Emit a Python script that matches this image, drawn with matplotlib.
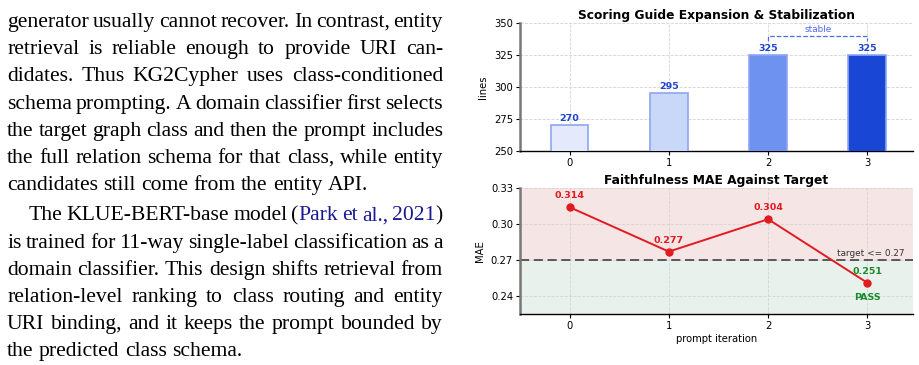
import matplotlib
matplotlib.use("Agg")
import matplotlib.pyplot as plt

# chart data
iters = [0, 1, 2, 3]
guide_lines = [270, 295, 325, 325]
bar_colors = ['#e4eafb', '#c9d7f8', '#6e92f0', '#1a46d6']
mae = [0.314, 0.277, 0.304, 0.251]
target = 0.27

# paragraph text on the left, {..} marks citation colour
para_lines = [
    "generator usually cannot recover. In contrast, entity",
    "retrieval is reliable enough to provide URI can-",
    "didates. Thus KG2Cypher uses class-conditioned",
    "schema prompting. A domain classifier first selects",
    "the target graph class and then the prompt includes",
    "the full relation schema for that class, while entity",
    "candidates still come from the entity API.",
    "The KLUE-BERT-base model ({Park et al., 2021})",
    "is trained for 11-way single-label classification as a",
    "domain classifier. This design shifts retrieval from",
    "relation-level ranking to class routing and entity",
    "URI binding, and it keeps the prompt bounded by",
    "the predicted class schema.",
]
justify = [True, True, True, True, True, True, False,
           True, True, True, True, True, False]
indent = [False] * 7 + [True] + [False] * 5

W, H = 919, 365
fig = plt.figure(figsize=(W / 100, H / 100), dpi=100)
renderer = fig.canvas.get_renderer()
tkw = dict(family='Liberation Serif', fontsize=15.6)


def wpx(s):
    t = fig.text(0, 0, s, **tkw)
    w = t.get_window_extent(renderer).width
    t.remove()
    return w


space = wpx("a a") - wpx("aa")


def pieces(word, state):
    out = []
    cur = ''
    for ch in word:
        if ch in '{}':
            if cur:
                out.append((cur, state))
            cur = ''
            state = (ch == '{')
        else:
            cur += ch
    if cur:
        out.append((cur, state))
    return out, state


x_left, x_right = 7, 443
baseline = 27.0
step = 27.2
state = False
for i, line in enumerate(para_lines):
    y = baseline + i * step + (3 if i >= 7 else 0)
    words = []
    for w in line.split(' '):
        p, state = pieces(w, state)
        words.append(p)
    widths = [sum(wpx(s) for s, _ in p) for p in words]
    x0 = 29 if indent[i] else x_left
    if justify[i] and len(words) > 1:
        gap = (x_right - x0 - sum(widths)) / (len(words) - 1)
    else:
        gap = space
    x = x0
    for p, wd in zip(words, widths):
        xx = x
        for s, blue in p:
            fig.text(xx / W, 1 - y / H, s, color='#1a1a90' if blue else 'black',
                     va='baseline', ha='left', **tkw)
            xx += wpx(s)
        x += wd + gap

# ---- top chart ----
ax1 = fig.add_axes([520 / W, 1 - 151 / H, 393 / W, 128 / H])
ax1.bar(iters, guide_lines, width=0.38, color=bar_colors, edgecolor='#8ea6f2',
        linewidth=1.2, zorder=3)
for xi, v in zip(iters, guide_lines):
    ax1.text(xi, v + 1.5, str(v), ha='center', va='bottom', fontsize=6.8,
             fontweight='bold', color='#1f44d0', zorder=4)
ax1.plot([2, 2, 3, 3], [336, 340, 340, 336], linestyle='--', color='#4a6cf0',
         linewidth=0.9, zorder=4)
ax1.text(2.5, 341.5, 'stable', ha='center', va='bottom', fontsize=6.4, color='#4a6cf0')
ax1.set_ylim(250, 350)
ax1.set_yticks([250, 275, 300, 325, 350])
ax1.set_xlim(-0.5, 3.46)
ax1.set_xticks(iters)
ax1.set_ylabel('lines', fontsize=7.2, labelpad=4)
ax1.set_title('Scoring Guide Expansion & Stabilization', fontsize=8.8,
              fontweight='bold', pad=3)

# ---- bottom chart ----
ax2 = fig.add_axes([520 / W, 1 - 314 / H, 393 / W, 126 / H])
ax2.axhspan(target, 0.33, color='#f6e5e5', zorder=0)
ax2.axhspan(0.225, target, color='#e9f1ec', zorder=0)
ax2.axhline(target, color='#333333', linestyle=(0, (6, 3)), linewidth=1.1, zorder=2)
ax2.text(3.03, target + 0.002, 'target <= 0.27', ha='center', va='bottom',
         fontsize=6.4, color='#333333')
ax2.plot(iters, mae, color='#e11b22', linewidth=1.4, marker='o', markersize=5, zorder=3)
for xi, v in zip(iters, mae):
    c = '#1a8a2e' if v <= target else '#e11b22'
    ax2.annotate(f'{v:.3f}', (xi, v), xytext=(0, 5), textcoords='offset points',
                 ha='center', va='bottom', fontsize=6.8, fontweight='bold', color=c)
    if v <= target:
        ax2.annotate('PASS', (xi, v), xytext=(0, -7), textcoords='offset points',
                     ha='center', va='top', fontsize=6.8, fontweight='bold', color=c)
ax2.set_ylim(0.225, 0.33)
ax2.set_yticks([0.24, 0.27, 0.30, 0.33])
ax2.set_xlim(-0.5, 3.46)
ax2.set_xticks(iters)
ax2.set_ylabel('MAE', fontsize=7.2, labelpad=4)
ax2.set_xlabel('prompt iteration', fontsize=7.2, labelpad=2)
ax2.set_title('Faithfulness MAE Against Target', fontsize=8.8, fontweight='bold', pad=3)

for ax in (ax1, ax2):
    ax.set_axisbelow(True)
    ax.grid(True, linestyle='--', color='#d4d4d4', linewidth=0.6, zorder=1)
    ax.spines['top'].set_visible(False)
    ax.spines['right'].set_visible(False)
    ax.spines['left'].set_color('#777777')
    ax.spines['left'].set_linewidth(1.8)
    ax.spines['bottom'].set_linewidth(1.0)
    ax.tick_params(labelsize=7.2, length=3, width=0.8, pad=2)

fig.savefig('out.png', dpi=100)
